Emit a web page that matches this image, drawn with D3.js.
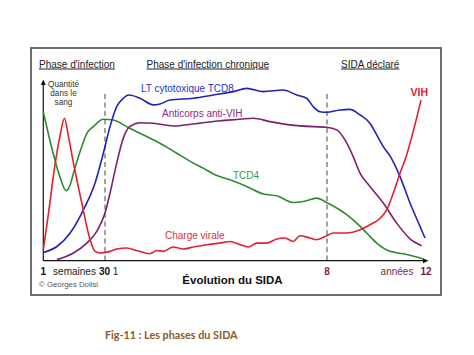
<!DOCTYPE html>
<html>
<head>
<meta charset="utf-8">
<script src="https://cdn.jsdelivr.net/npm/d3@7"></script>
<style>
  html, body { margin: 0; padding: 0; background: #fff; }
  svg { display: block; }
</style>
</head>
<body>
<svg id="chart" width="474" height="355"></svg>
<script>
// ---- Data (time t: 0..1 = primary infection weeks 1..30, then years 1..12) ----
const timeBreaks = [0, 1, 8, 12];

const tcd8 = [
  [0,4.6],[0.221,7.9],[0.435,15.4],[0.65,28.3],[0.839,43.2],[0.973,59.8],[1.158,74.6],
  [1.369,85.7],[1.577,90.4],[1.757,92.2],[2.104,90.4],[2.523,86.7],[2.734,87.2],[3.05,89.4],
  [3.784,90.4],[4.415,92.2],[5.046,94.1],[5.468,95.9],[5.992,94.1],[6.622,95],[7.045,92.2],
  [7.36,90.4],[7.568,85.7],[7.779,82.9],[7.99,82.6],[8.525,83.9],[8.929,84.2],[9.333,81.1],
  [9.737,76.5],[10.008,70],[10.275,63.5],[10.545,58.3],[10.949,46.8],[11.354,32.1],
  [11.758,19.1],[11.96,12.6]
];

const anticorps = [
  [0.221,0.6],[0.489,4.3],[0.705,9.8],[0.866,16.3],[1.0,26.5],[1.158,37.6],[1.369,54.3],
  [1.577,68.2],[1.788,74.7],[2.104,76.8],[2.523,76.5],[3.154,75],[3.784,76.1],[4.626,77.9],
  [5.257,78.7],[5.676,79.3],[6.203,77.4],[6.833,75.6],[7.568,74.6],[7.99,74.3],[8.392,72.8],
  [8.727,67.2],[9.063,57.8],[9.333,48.7],[9.737,41.3],[10.275,32.1],[10.816,20.9],
  [11.354,12.2],[11.826,8.3]
];

const tcd4 = [
  [0,82.9],[0.145,61.7],[0.274,46.1],[0.371,38.9],[0.435,42.2],[0.489,48.7],[0.624,63.5],
  [0.705,70.9],[0.811,74.6],[0.973,78.7],[1.262,78.3],[1.684,74.6],[2.0,71.8],[2.315,69.1],
  [2.734,65.4],[3.261,59.8],[3.784,54.3],[4.1,51.5],[4.468,47.8],[4.941,45],[5.468,41.3],
  [5.992,37.1],[6.414,36.1],[6.937,32.4],[7.253,32.9],[7.675,34.8],[7.99,32.4],[8.392,29.3],
  [8.796,25.6],[9.2,20.9],[9.604,15.4],[10.008,9.8],[10.545,5.2],[11.083,3.9],[11.624,2.1],
  [11.891,0.9]
];

const chargeVirale = [
  [0,6.1],[0.081,25.6],[0.177,50.6],[0.274,70],[0.344,79.3],[0.403,70],[0.489,54.3],
  [0.624,32.1],[0.758,11.7],[0.839,5.2],[0.919,4.3],[1.158,5.2],[1.369,6.5],[1.684,7.1],
  [2.0,5.7],[2.419,3.9],[2.63,5.7],[2.838,5.2],[3.154,7.6],[3.469,6.5],[3.784,7.6],
  [4.207,8.9],[4.626,9.8],[4.941,10.7],[5.257,8.9],[5.519,7.6],[5.783,9.8],[6.099,9.8],
  [6.414,12.1],[6.676,12.6],[6.937,10.7],[7.149,13.9],[7.464,12.6],[7.675,11.7],[7.99,13.9],
  [8.255,15.4],[8.796,15.4],[9.333,17.2],[9.737,20],[10.073,22.8],[10.412,28.3],
  [10.679,37.6],[10.949,48.7],[11.152,56.1],[11.798,89.4]
];

const phaseLabels = ["Phase d'infection", "Phase d'infection chronique", "SIDA déclaré"];
const dashedAt = [1, 8];

// ---- Layout ----
const svg = d3.select("#chart");
const x = d3.scaleLinear().domain(timeBreaks).range([43.3, 105, 327, 426]);
const y = d3.scaleLinear().domain([0, 100]).range([260.7, 81]);

const FONT = "'Liberation Sans', Arial, sans-serif";

// frame
svg.append("rect")
  .attr("x", 31).attr("y", 48).attr("width", 410).attr("height", 247)
  .attr("fill", "#fff").attr("stroke", "#4a4a4a").attr("stroke-width", 1.6);

// phase headers (underlined)
const headers = [
  {t: phaseLabels[0], x: 39},
  {t: phaseLabels[1], x: 146.5},
  {t: phaseLabels[2], x: 341}
];
headers.forEach(h => {
  svg.append("text")
    .attr("x", h.x).attr("y", 67.5)
    .attr("font-family", FONT).attr("font-size", 10)
    .attr("fill", "#222")
    .attr("text-decoration", "underline")
    .text(h.t);
});

// dashed separators
svg.selectAll("line.sep").data(dashedAt).join("line")
  .attr("class", "sep")
  .attr("x1", d => x(d)).attr("x2", d => x(d))
  .attr("y1", 94).attr("y2", y(0))
  .attr("stroke", "#555").attr("stroke-width", 1.1)
  .attr("stroke-dasharray", "5,3.5");

// axes
const axisColor = "#111";
svg.append("line").attr("x1", x(0)).attr("x2", x(0)).attr("y1", y(0)).attr("y2", 84)
  .attr("stroke", axisColor).attr("stroke-width", 1.2);
svg.append("path").attr("d", `M${x(0)-2.5},85 L${x(0)},79.5 L${x(0)+2.5},85 Z`).attr("fill", axisColor);
svg.append("line").attr("x1", x(0)).attr("x2", 424).attr("y1", y(0)).attr("y2", y(0))
  .attr("stroke", axisColor).attr("stroke-width", 1.2);
svg.append("path").attr("d", `M423,${y(0)-2.5} L428.5,${y(0)} L423,${y(0)+2.5} Z`).attr("fill", axisColor);

// y-axis title
["Quantité", "dans le", "sang"].forEach((s, i) => {
  svg.append("text").attr("x", 63.5).attr("y", 86.8 + i * 9)
    .attr("text-anchor", "middle").attr("font-family", FONT).attr("font-size", 8.2)
    .attr("fill", "#333").text(s);
});

// x tick labels
const tickY = 275;
const ticks = [
  {t: "1", x: x(0), bold: true, c: "#111"},
  {t: "semaines", x: 74.5, bold: false, c: "#222"},
  {t: "30", x: 104.5, bold: true, c: "#111"},
  {t: "1", x: 115.5, bold: false, c: "#222"},
  {t: "8", x: x(8), bold: true, c: "#8a1f45"},
  {t: "années", x: 397, bold: false, c: "#7a2a55"},
  {t: "12", x: x(12), bold: true, c: "#7a1a35"}
];
ticks.forEach(tk => {
  svg.append("text").attr("x", tk.x).attr("y", tickY)
    .attr("text-anchor", "middle").attr("font-family", FONT).attr("font-size", 10)
    .attr("font-weight", tk.bold ? "bold" : "normal").attr("fill", tk.c).text(tk.t);
});

svg.append("text").attr("x", 232.5).attr("y", 284.3)
  .attr("text-anchor", "middle").attr("font-family", FONT).attr("font-size", 11.5)
  .attr("font-weight", "bold").attr("fill", "#111").text("Évolution du SIDA");

svg.append("text").attr("x", 39).attr("y", 287)
  .attr("font-family", FONT).attr("font-size", 7.8)
  .attr("fill", "#555").text("© Georges Dolisi");

// curves
const line = d3.line().x(d => x(d[0])).y(d => y(d[1])).curve(d3.curveMonotoneX);
const series = [
  {data: tcd4, color: "#2f8a2f"},
  {data: anticorps, color: "#7a2270"},
  {data: tcd8, color: "#2222b8"},
  {data: chargeVirale, color: "#e0222c"}
];
series.forEach(s => {
  svg.append("path").datum(s.data).attr("d", line)
    .attr("fill", "none").attr("stroke", s.color).attr("stroke-width", 1.6)
    .attr("stroke-linejoin", "round");
});

// series labels
const labels = [
  {t: "LT cytotoxique TCD8", x: 141, y: 91.5, c: "#2233c4", s: 10, w: "normal"},
  {t: "Anticorps anti-VIH", x: 162, y: 116.5, c: "#8e2a88", s: 10, w: "normal"},
  {t: "TCD4", x: 233, y: 178.5, c: "#3a9a48", s: 10, w: "normal"},
  {t: "Charge virale", x: 165, y: 238.5, c: "#d42f45", s: 10, w: "normal"},
  {t: "VIH", x: 410.5, y: 96, c: "#e0202e", s: 10.5, w: "bold"}
];
labels.forEach(l => {
  svg.append("text").attr("x", l.x).attr("y", l.y)
    .attr("font-family", FONT).attr("font-size", l.s).attr("font-weight", l.w)
    .attr("fill", l.c).text(l.t);
});

// caption
svg.append("text").attr("x", 105).attr("y", 338.5)
  .attr("font-family", "Lato, 'Open Sans', sans-serif").attr("font-size", 10.8)
  .attr("font-weight", "bold").attr("fill", "#8a5a2a")
  .text("Fig-11 : Les phases du SIDA");
</script>
</body>
</html>
